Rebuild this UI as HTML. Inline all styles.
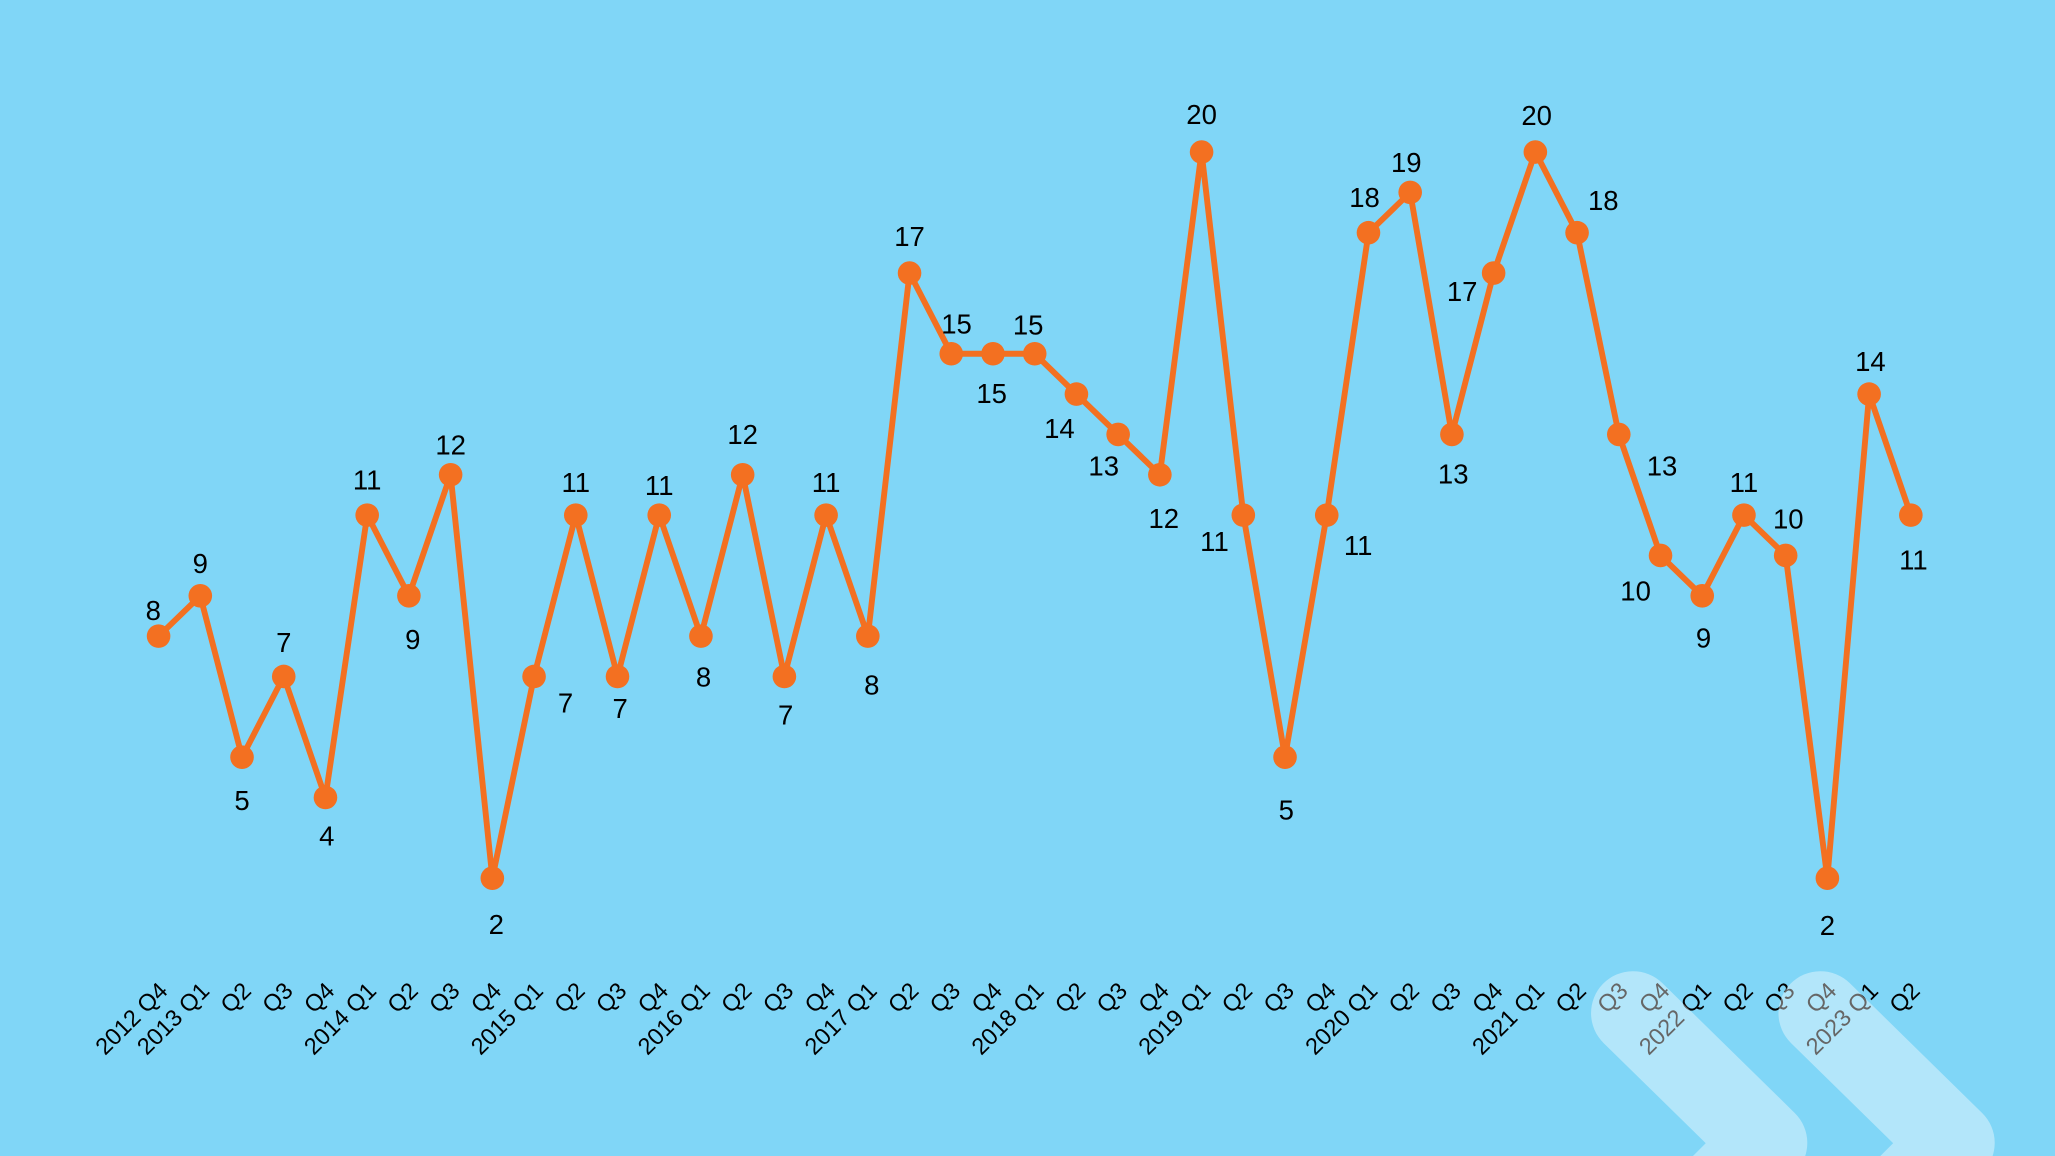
<!DOCTYPE html>
<html><head><meta charset="utf-8"><style>
html,body{margin:0;padding:0;background:#80d6f7;overflow:hidden;width:2055px;height:1156px;}
svg{display:block;overflow:hidden;}
text{font-family:"Liberation Sans",Arial,sans-serif;}
</style></head><body>
<svg width="2055" height="1156" viewBox="0 0 1568 882" preserveAspectRatio="none" xmlns="http://www.w3.org/2000/svg">
<rect width="1568" height="882" fill="#80d6f7"/>
<g id="chart"></g>
<script>
var vals=[8,9,5,7,4,11,9,12,2,7,11,7,11,8,12,7,11,8,17,15,15,15,14,13,12,20,11,5,11,18,19,13,17,20,18,13,10,9,11,10,2,14,11];
var off=[[-4,-20],[0,-25],[0,33],[0,-26],[1,29],[0,-27],[3,33],[0,-23],[3,35],[24,20],[0,-25],[2,24],[0,-23],[2,31],[0,-31],[1,29],[0,-25],[3,37],[0,-28],[4,-23],[-1,30],[-5,-22],[-13,26],[-11,24],[3,33],[0,-29],[-22,20],[1,40],[24,23],[-3,-27],[-3,-23],[1,30],[-24,14],[1,-28],[20,-25],[33,24],[-19,27],[1,32],[0,-25],[2,-28],[0,36],[1,-25],[2,34]];
var labels=[],yr=2012,q=4;
for(var i=0;i<43;i++){labels.push((q==1||i==0)?(yr+" Q"+q):("Q"+q));q++;if(q>4){q=1;yr++;}}
var NS="http://www.w3.org/2000/svg",g=document.getElementById("chart");
function X(i){return 121+i*(1337/42);}function Y(v){return 116+(20-v)*30.78;}
function el(t,a,txt){var e=document.createElementNS(NS,t);for(var k in a)e.setAttribute(k,a[k]);if(txt!==undefined)e.textContent=txt;g.appendChild(e);return e;}
var pts=vals.map(function(v,i){return X(i).toFixed(1)+","+Y(v).toFixed(1)}).join(" ");
el("polyline",{points:pts,fill:"none",stroke:"#f37021","stroke-width":4.5,"stroke-linejoin":"round"});
vals.forEach(function(v,i){el("circle",{cx:X(i),cy:Y(v),r:9,fill:"#f37021"});
el("text",{x:X(i)+off[i][0],y:Y(v)+off[i][1]+7.5,"font-size":21,"text-anchor":"middle",fill:"#000"},String(v));});
labels.forEach(function(l,i){var x=X(i)+8,y=757;
el("text",{x:x,y:y,"font-size":18,"text-anchor":"end",fill:"#000",transform:"rotate(-45 "+x+" "+y+")"},l);});
[0,143].forEach(function(d){
el("polyline",{points:(1246+d)+",773 "+(1347+d)+",872 "+(1247+d)+",972",fill:"none",stroke:"rgba(255,255,255,0.4)","stroke-width":64,"stroke-linejoin":"round","stroke-linecap":"round"});});
</script>
</svg>
</body></html>
